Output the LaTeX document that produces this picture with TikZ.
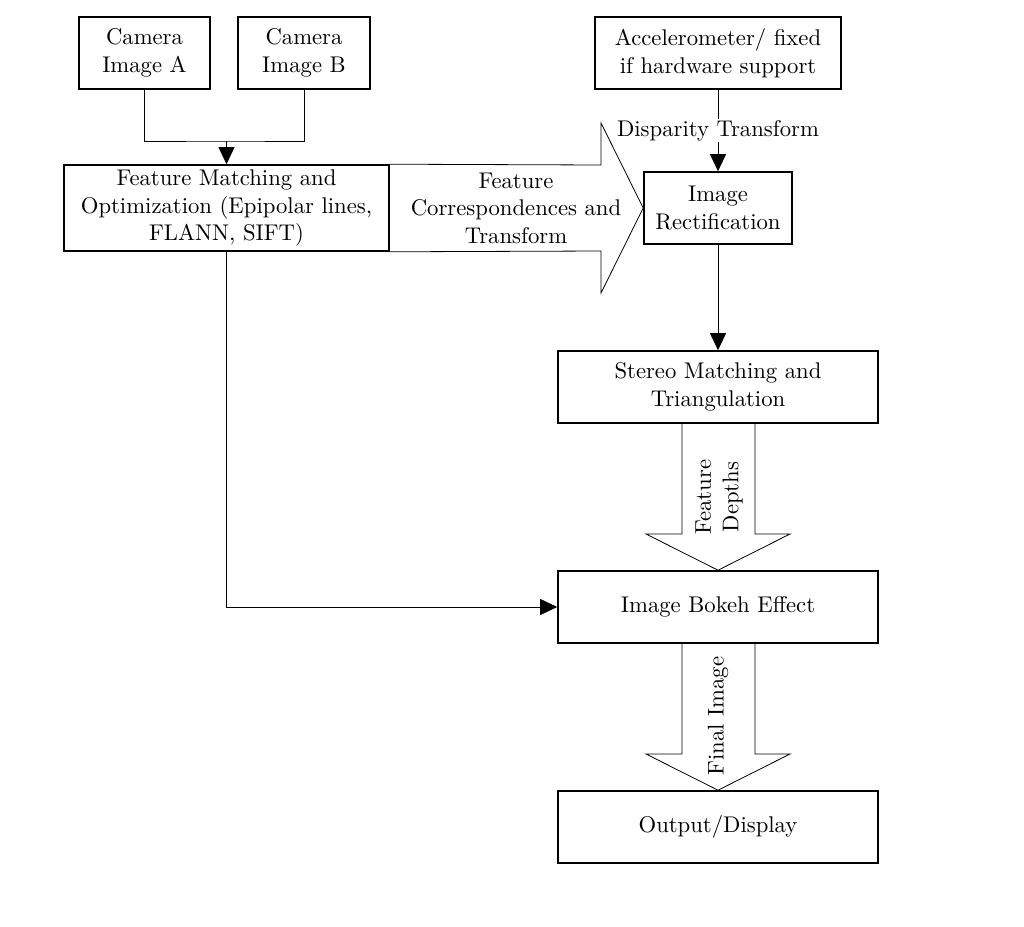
\documentclass[tikz,border=0pt]{standalone}
\usepackage{fontspec}
\setmainfont{lmroman10-regular.otf}
\usetikzlibrary{arrows.meta}
\begin{document}
\begin{tikzpicture}[x=1pt,y=-1pt,
  every node/.style={font=\fontsize{22.7}{27.5}\selectfont, align=center},
  block/.style={draw, line width=1.6pt, inner sep=0pt, minimum height=72pt},
  link/.style={line width=0.8pt},
  arr/.style={link, -{Triangle[length=17pt,width=16pt]}},
  fat/.style={line width=0.8pt, line join=miter}]
\useasboundingbox (0,0) rectangle (1024,926);

% process boxes
\node[block, minimum width=131pt] (camA) at (144.5,53) {Camera\\Image A};
\node[block, minimum width=132pt] (camB) at (304,53) {Camera\\Image B};
\node[block, minimum width=246pt] (accel) at (718,53) {Accelerometer/ fixed\\if hardware support};
\node[block, minimum width=325pt, minimum height=86pt] (feat) at (226.5,208)
  {Feature Matching and\\Optimization (Epipolar lines,\\FLANN, SIFT)};
\node[block, minimum width=148pt] (rect) at (718,208) {Image\\Rectification};
\node[block, minimum width=320pt] (stereo) at (718,387) {Stereo Matching and\\Triangulation};
\node[block, minimum width=320pt] (bokeh) at (718,607) {Image Bokeh Effect};
\node[block, minimum width=320pt] (out) at (718,827) {Output/Display};

% merging the two camera images
\coordinate (j) at (226.5,141);
\draw[link] (camA.south) |- (j) -| (camB.south);
\draw[arr] (j) -- (feat.north);

% accelerometer to rectification
\draw[arr] (accel.south) -- node[fill=white, inner sep=1pt] {Disparity Transform} (rect.north);

% rectification to stereo matching
\draw[arr] (rect.south) -- (stereo.north);

% feature matching straight to the bokeh stage
\draw[arr] (feat.south) |- (bokeh.west);

% wide arrow: feature correspondences
\draw[fat] (feat.north east) -- (601,165) -- (601,123) -- (rect.west)
  -- (601,293) -- (601,251) -- (feat.south east);
\node (corr) at (516,208) {Feature\\Correspondences and\\Transform};

% wide arrow: feature depths
\draw[fat] (682,423) -- (682,534) -- (646,534) -- (bokeh.north)
  -- (790,534) -- (755,534) -- (755,423);
\node[rotate=90] (depth) at (719,497) {Feature\\Depths};

% wide arrow: final image
\draw[fat] (682,643) -- (682,754) -- (646,754) -- (out.north)
  -- (790,754) -- (755,754) -- (755,643);
\node[rotate=90] (final) at (718,716) {Final Image};
\end{tikzpicture}
\end{document}
